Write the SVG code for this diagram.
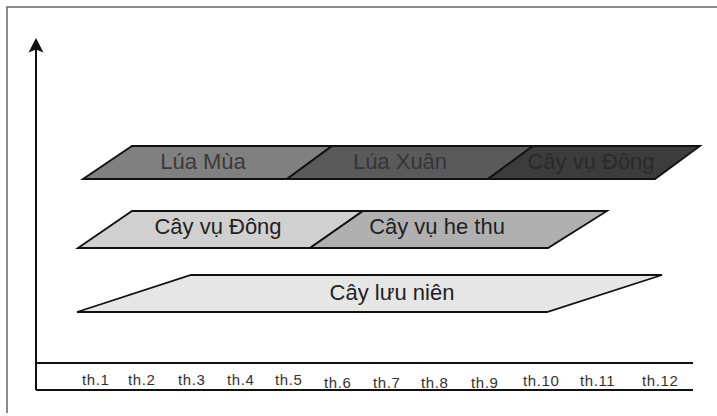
<svg xmlns="http://www.w3.org/2000/svg" width="717" height="416" viewBox="0 0 717 416">
<style>
.band{stroke:#111;stroke-width:1.8;stroke-linejoin:miter}
.big{font-family:"Liberation Sans",Arial,sans-serif;font-size:22px;text-anchor:middle}
.ax{font-family:"Liberation Sans",Arial,sans-serif;font-size:15px;fill:#333;letter-spacing:0.6px}
.axis{stroke:#111;stroke-width:2;fill:none}
</style>
<rect width="717" height="416" fill="#fff"/>
<path d="M7,413 V7 H717" fill="none" stroke="#666" stroke-width="1.5"/>

<g id="axes">
<path class="axis" d="M36,390 V40"/>
<path d="M36,38 L43.5,52.5 L36,49.5 L28.5,52.5 Z" fill="#111"/>
<path class="axis" d="M36,363 H693 M36,390 H693"/>
</g>

<g id="lua-mua">
<polygon class="band" points="83,179 132,146 332,146 287,179" fill="#808080"/>
<text class="big" x="203" y="169" fill="#3a3a3a">Lúa Mùa</text>
</g>
<g id="lua-xuan">
<polygon class="band" points="287,179 332,146 533,146 488,179" fill="#5a5a5a"/>
<text class="big" x="400" y="169" fill="#353535">Lúa Xuân</text>
</g>
<g id="cay-vu-dong-1">
<polygon class="band" points="488,179 533,146 700,146 655,179" fill="#3c3c3c"/>
<text class="big" x="591" y="169" fill="#2a2a2a">Cây vụ Đông</text>
</g>

<g id="cay-vu-dong-2">
<polygon class="band" points="78,248 132,211 363,211 310,248" fill="#d0d0d0"/>
<text class="big" x="218" y="234" fill="#222">Cây vụ Đông</text>
</g>
<g id="cay-vu-he-thu">
<polygon class="band" points="310,248 363,211 607,211 548,248" fill="#b0b0b0"/>
<text class="big" x="437" y="234" fill="#222">Cây vụ he thu</text>
</g>

<g id="cay-luu-nien">
<polygon class="band" points="77,312 191,275 662,275 547,312" fill="#e6e6e6"/>
<text class="big" x="392" y="300" fill="#222">Cây lưu niên</text>
</g>

<g id="months">
<text class="ax" x="82" y="385">th.1</text>
<text class="ax" x="128" y="385">th.2</text>
<text class="ax" x="178" y="385">th.3</text>
<text class="ax" x="227" y="385">th.4</text>
<text class="ax" x="275" y="385">th.5</text>
<text class="ax" x="324" y="388">th.6</text>
<text class="ax" x="373" y="388">th.7</text>
<text class="ax" x="421" y="388">th.8</text>
<text class="ax" x="471" y="388">th.9</text>
<text class="ax" x="523" y="386">th.10</text>
<text class="ax" x="580" y="386">th.11</text>
<text class="ax" x="642" y="386">th.12</text>
</g>
</svg>
